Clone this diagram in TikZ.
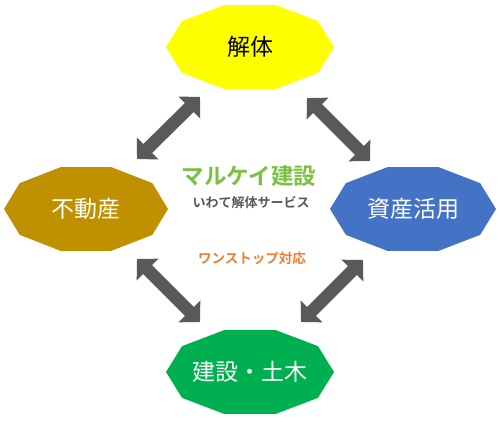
\documentclass[tikz,border=0pt]{standalone}
\usepackage{fontspec}
\newfontfamily\jp{Noto Sans CJK JP}[BoldFont={Noto Sans CJK JP Bold}]
\usetikzlibrary{arrows.meta}
\definecolor{cyellow}{HTML}{FFFF00}
\definecolor{cgold}{HTML}{BF9000}
\definecolor{cblue}{HTML}{4472C4}
\definecolor{cgreen}{HTML}{00B050}
\definecolor{carrow}{HTML}{595959}
\definecolor{ctitle}{HTML}{7AC143}
\definecolor{csub}{HTML}{595959}
\definecolor{corange}{HTML}{ED7D31}
\tikzset{
  lbl/.style={font=\jp\fontsize{23}{26}\selectfont, inner sep=0pt},
  blockarrow/.style={draw=carrow, line width=12.5pt,
    {Triangle[length=15pt,width=30pt]}-{Triangle[length=15pt,width=30pt]}},
}
\begin{document}
\begin{tikzpicture}[x=1pt,y=-1pt]
\useasboundingbox (0,0) rectangle (500,422);
% decagons
\foreach \cx/\cy/\rx/\ry/\col in {250/47/84/44/cyellow, 86/209/82/44/cgold, 413/209/83/44/cblue, 250/372/84/44/cgreen}{
  \fill[\col, shift={(\cx,\cy)}] (0:\rx pt and \ry pt) -- (36:\rx pt and \ry pt) -- (72:\rx pt and \ry pt) -- (108:\rx pt and \ry pt) -- (144:\rx pt and \ry pt) -- (180:\rx pt and \ry pt) -- (216:\rx pt and \ry pt) -- (252:\rx pt and \ry pt) -- (288:\rx pt and \ry pt) -- (324:\rx pt and \ry pt) -- cycle;
}
\node[lbl, text=black] (kaitai) at (250,47) {解体};
\node[lbl, text=white] (fudousan) at (86,209) {不動産};
\node[lbl, text=white] (shisan) at (413,209) {資産活用};
\node[lbl, text=white] (kensetsu) at (250,372) {建設・土木};
% centre texts
\node[font=\jp\bfseries\fontsize{22.5}{26}\selectfont, text=ctitle, inner sep=0pt] (title) at (249,176) {マルケイ建設};
\node[font=\jp\bfseries\fontsize{13}{15}\selectfont, text=csub, inner sep=0pt] (sub) at (251,203) {いわて解体サービス};
\node[font=\jp\bfseries\fontsize{13.5}{16}\selectfont, text=corange, inner sep=0pt] (onestop) at (252,258) {ワンストップ対応};
% arrows
\coordinate (ula) at (137,159); \coordinate (ulb) at (200,97);
\coordinate (ura) at (307,98);  \coordinate (urb) at (370,161);
\coordinate (lla) at (137,259); \coordinate (llb) at (200,322);
\coordinate (lra) at (363,260); \coordinate (lrb) at (301,322);
\draw[blockarrow] (ula) -- (ulb);
\draw[blockarrow] (ura) -- (urb);
\draw[blockarrow] (lla) -- (llb);
\draw[blockarrow] (lra) -- (lrb);
\end{tikzpicture}
\end{document}
